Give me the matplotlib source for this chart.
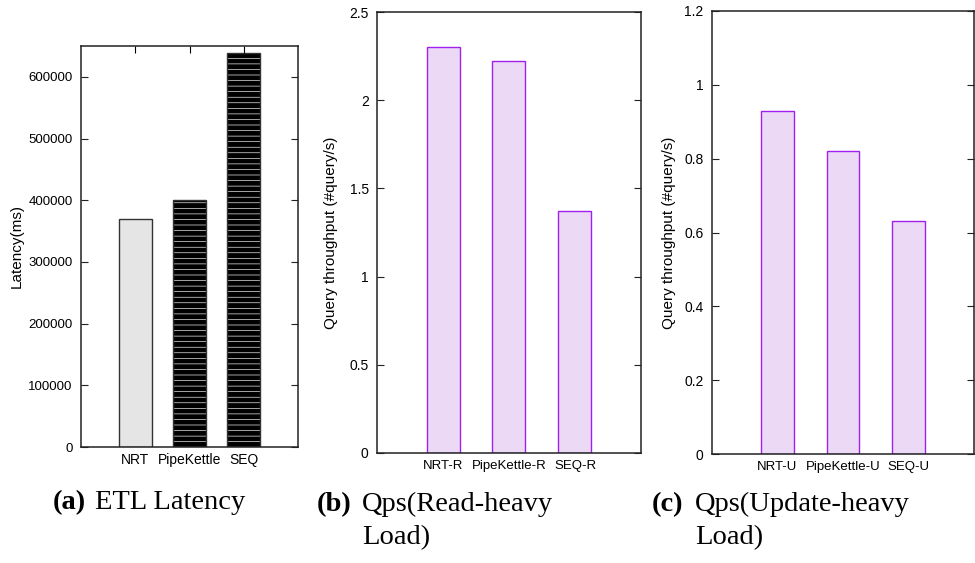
import matplotlib.pyplot as plt

plt.rcParams["font.family"] = ["Liberation Sans", "DejaVu Sans"]
plt.rcParams["hatch.linewidth"] = 0.45

# Data
etl_names = ["NRT", "PipeKettle", "SEQ"]
etl_latency = [370000, 400000, 638000]

read_names = ["NRT-R", "PipeKettle-R", "SEQ-R"]
read_qps = [2.30, 2.22, 1.37]

update_names = ["NRT-U", "PipeKettle-U", "SEQ-U"]
update_qps = [0.93, 0.82, 0.63]

W, H = 975, 563
fig = plt.figure(figsize=(W / 100, H / 100), dpi=100)


def box(l, t, r, b):
    return [l / W, (H - b) / H, (r - l) / W, (b - t) / H]


def style(ax):
    for s in ax.spines.values():
        s.set_linewidth(1.1)
        s.set_color("#222222")
    ax.tick_params(axis="y", direction="in", right=True, length=5,
                   labelsize=10, pad=6, color="#222222")


# Chart a: ETL latency
ax1 = fig.add_axes(box(81, 46, 298, 447))
pos = [1, 2, 3]
ax1.bar(pos[0], etl_latency[0], width=0.6, color="#e5e5e5",
        edgecolor="#333333", linewidth=1)
ax1.bar(pos[1:], etl_latency[1:], width=0.6, color="black",
        edgecolor="white", linewidth=0, hatch="---")
ax1.bar(pos[1:], etl_latency[1:], width=0.6, fill=False,
        edgecolor="#333333", linewidth=1)
ax1.set_xlim(0, 4)
ax1.set_ylim(0, 650000)
ax1.set_yticks(range(0, 600001, 100000))
ax1.set_xticks(pos)
ax1.set_xticklabels(etl_names)
ax1.tick_params(axis="x", direction="in", top=True, bottom=False,
                length=5, labelsize=10, pad=4)
ax1.set_ylabel("Latency(ms)", fontsize=11, labelpad=3)
style(ax1)
ax1.tick_params(axis="y", labelsize=9.5)

# Chart b: read-heavy
purple = "#a020f0"
fill = "#ecd9f5"
ax2 = fig.add_axes(box(377, 12, 641, 453))
ax2.bar(pos, read_qps, width=0.5, color=fill, edgecolor=purple, linewidth=1)
ax2.set_xlim(0, 4)
ax2.set_ylim(0, 2.5)
ax2.set_yticks([0, 0.5, 1, 1.5, 2, 2.5])
ax2.set_yticklabels(["0", "0.5", "1", "1.5", "2", "2.5"])
ax2.set_xticks(pos)
ax2.set_xticklabels(read_names)
ax2.tick_params(axis="x", length=0, labelsize=9.5, pad=5)
ax2.set_ylabel("Query throughput (#query/s)", fontsize=11, labelpad=8)
style(ax2)

# Chart c: update-heavy
ax3 = fig.add_axes(box(712, 11, 974, 454))
ax3.bar(pos, update_qps, width=0.5, color=fill, edgecolor=purple, linewidth=1)
ax3.set_xlim(0, 4)
ax3.set_ylim(0, 1.2)
ax3.set_yticks([0, 0.2, 0.4, 0.6, 0.8, 1, 1.2])
ax3.set_yticklabels(["0", "0.2", "0.4", "0.6", "0.8", "1", "1.2"])
ax3.set_xticks(pos)
ax3.set_xticklabels(update_names)
ax3.tick_params(axis="x", length=0, labelsize=9.5, pad=5)
ax3.set_ylabel("Query throughput (#query/s)", fontsize=11, labelpad=6)
style(ax3)

# Captions
serif = ["Liberation Serif", "DejaVu Serif"]
cap = 20.5


def caption(xl, xt, y, label, lines):
    fig.text(xl / W, (H - y) / H, label, fontsize=cap, family=serif,
             weight="bold", va="baseline")
    for i, line in enumerate(lines):
        fig.text(xt / W, (H - y - 33 * i) / H, line, fontsize=cap,
                 family=serif, va="baseline")


caption(53, 95, 509, "(a)", ["ETL Latency"])
caption(317, 362, 511, "(b)", ["Qps(Read-heavy", "Load)"])
caption(652, 695, 511, "(c)", ["Qps(Update-heavy", "Load)"])

fig.savefig("out.png", dpi=100)
